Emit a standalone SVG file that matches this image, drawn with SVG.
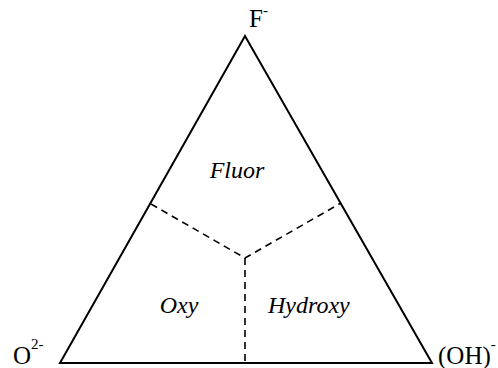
<svg xmlns="http://www.w3.org/2000/svg" width="498" height="368" viewBox="0 0 498 368">
<style>
.edge{fill:none;stroke:#000;stroke-width:2;stroke-linejoin:miter}
.dash{fill:none;stroke:#000;stroke-width:1.6;stroke-dasharray:7,5}
.lbl{font-family:"Liberation Serif","Times New Roman",serif;font-size:25px;fill:#000}
.reg{font-family:"Liberation Serif","Times New Roman",serif;font-size:24px;font-style:italic;fill:#000}
.sup{font-size:15px}
</style>
<rect width="498" height="368" fill="#fff"/>
<g id="triangle">
<path class="edge" d="M245,36 L60,363 L432,363 Z"/>
</g>
<g id="connectors">
<path class="dash" d="M151,204 L245,258 L341,203"/>
<path class="dash" d="M245,258 L245,363"/>
</g>
<g id="node-F">
<text class="lbl" x="249" y="27">F<tspan class="sup" dy="-12">-</tspan></text>
</g>
<g id="node-O">
<text class="lbl" x="13" y="364">O<tspan class="sup" dy="-15">2-</tspan></text>
</g>
<g id="node-OH">
<text class="lbl" x="438" y="364">(OH)<tspan class="sup" dy="-15">-</tspan></text>
</g>
<g id="region-fluor">
<text class="reg" x="237" y="178" text-anchor="middle">Fluor</text>
</g>
<g id="region-oxy">
<text class="reg" x="179" y="313" text-anchor="middle">Oxy</text>
</g>
<g id="region-hydroxy">
<text class="reg" x="268" y="313">Hydroxy</text>
</g>
</svg>
